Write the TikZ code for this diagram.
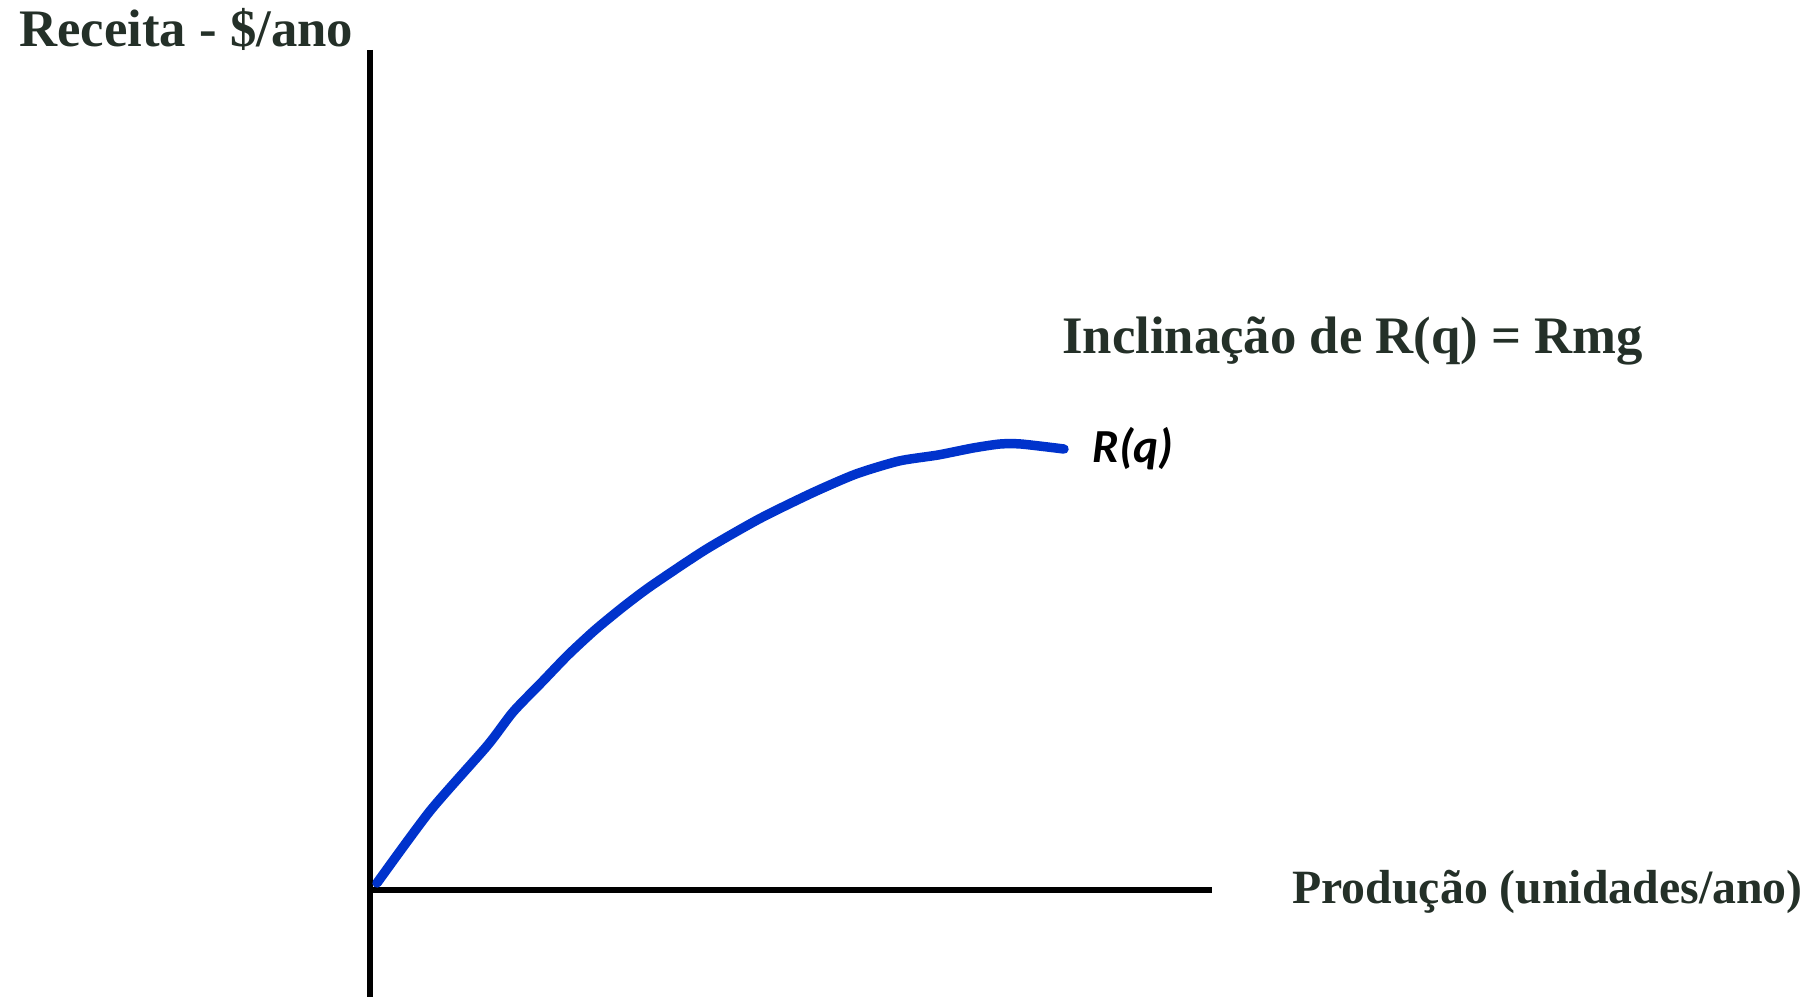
\documentclass[tikz,border=0pt]{standalone}
\usepackage{fontspec}
\setmainfont{Liberation Serif}
\newfontfamily\calib{Carlito}
\definecolor{txtcol}{RGB}{36,48,40}
\definecolor{curveblue}{RGB}{0,51,204}
\begin{document}
\begin{tikzpicture}[x=0.02cm,y=-0.02cm,
  axisline/.style={line width=2.9pt,black},
  revcurve/.style={line width=5.4pt,curveblue,line cap=round,line join=round},
  bigtext/.style={inner sep=0pt,anchor=base west,text=txtcol,font=\fontsize{30pt}{36pt}\selectfont\bfseries},
  midtext/.style={inner sep=0pt,anchor=base west,text=txtcol,font=\fontsize{27.2pt}{32pt}\selectfont\bfseries},
  curvelabel/.style={inner sep=0pt,anchor=base west,text=black,font=\calib\fontsize{27pt}{32pt}\selectfont\bfseries\itshape}]
\useasboundingbox (0,0) rectangle (1809,997);
\coordinate (O) at (370,890);
\coordinate (ytop) at (370,50);
\coordinate (ybot) at (370,997);
\coordinate (xend) at (1212,890);
\draw[axisline] (ytop) -- (ybot);
\draw[axisline] (O) -- (xend);
\draw[revcurve] plot[smooth,tension=0.4] coordinates {(377,883) (430,811) (487,746) (513,712) (542,682) (568,655) (595,630) (623,607) (651,586) (705,550) (759,519) (812,493) (856,474) (899,461) (938,455) (973,448) (1000,444) (1021,444) (1064,449)};
\node[bigtext] (ylab) at (19,47) {Receita - \$/ano};
\node[bigtext] (slope) at (1062,353) {Inclinação de R(q) = Rmg};
\node[midtext] (xlab) at (1292,903) {Produção (unidades/ano)};
\node[curvelabel] (rq) at (1092,462) {R(q)};
\end{tikzpicture}
\end{document}
